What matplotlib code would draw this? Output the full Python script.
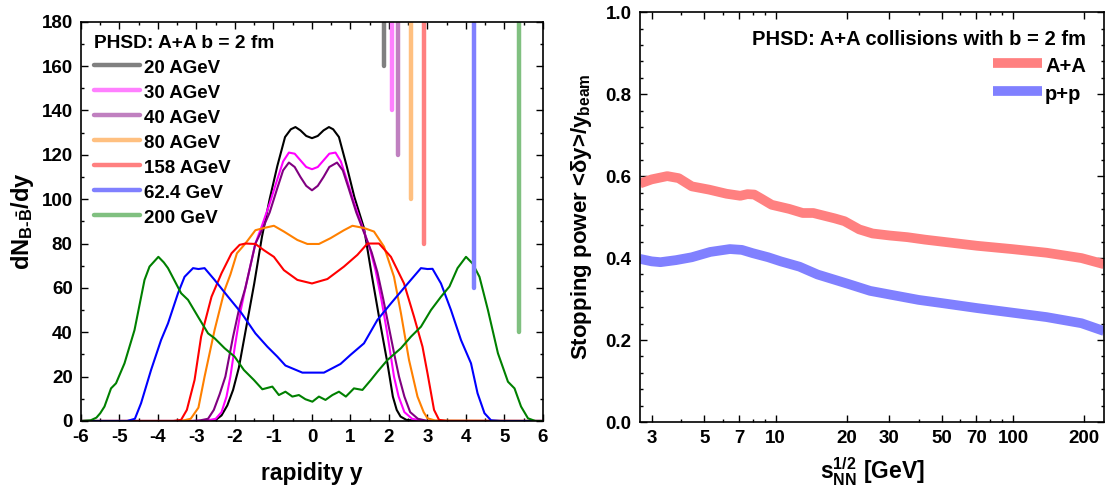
import numpy as np
import matplotlib
matplotlib.use("Agg")
import matplotlib.pyplot as plt
from matplotlib.ticker import MultipleLocator, FixedLocator, NullFormatter

plt.rcParams['font.family'] = ['Liberation Sans', 'DejaVu Sans']
plt.rcParams['font.weight'] = 'bold'
plt.rcParams['axes.labelweight'] = 'bold'
plt.rcParams['axes.unicode_minus'] = False
plt.rcParams['mathtext.fontset'] = 'custom'
plt.rcParams['mathtext.rm'] = 'Liberation Sans:bold'
plt.rcParams['mathtext.it'] = 'Liberation Sans:bold'
plt.rcParams['mathtext.bf'] = 'Liberation Sans:bold'

# ---- left panel: net-baryon rapidity distributions ----
labels = ["20 AGeV", "30 AGeV", "40 AGeV", "80 AGeV", "158 AGeV", "62.4 GeV", "200 GeV"]
curve_colors = ["black", "#ff00ff", "#800080", "#ff8000", "#ff0000", "#0000ff", "#008000"]
bar_colors = ["#808080", "#ff80ff", "#c080c0", "#ffc080", "#ff8080", "#8080ff", "#80c080"]
y_beam = [1.88, 2.09, 2.24, 2.58, 2.92, 4.21, 5.38]
bar_bottom = [160, 140, 120, 100, 80, 60, 40]

x_20 = [-6, -2.8, -2.5, -2.35, -2.2, -2.05, -1.9, -1.7, -1.5, -1.3, -1.1, -0.9, -0.7, -0.55, -0.43,
        -0.3, -0.15, 0.0, 0.15, 0.3, 0.44, 0.55, 0.7, 0.9, 1.1, 1.35, 1.55, 1.75, 1.95, 2.1, 2.2,
        2.3, 2.45, 2.8, 6]
y_20 = [0, 0, 0.5, 2.5, 7, 14, 24, 43, 62, 83, 100, 115, 128, 131.5, 132.5,
        131, 128.5, 127.5, 128.5, 131, 132.5, 131.5, 128, 115, 101, 87, 66, 46, 27, 11, 5,
        2, 0.5, 0, 0]

x_30 = [-6, -2.9, -2.7, -2.5, -2.35, -2.22, -2.12, -2.0, -1.85, -1.73, -1.6, -1.47, -1.3, -1.1, -0.9,
        -0.75, -0.6, -0.45, -0.3, -0.15, 0.0, 0.15, 0.3, 0.45, 0.61, 0.75, 0.9, 1.1, 1.3, 1.5,
        1.65, 1.8, 1.95, 2.05, 2.13, 2.25, 2.4, 2.6, 2.9, 6]
y_30 = [0, 0, 0.3, 1, 4, 11, 20, 34, 50, 60, 70, 80, 88, 98, 109,
        117, 121, 120.5, 117.5, 114.5, 113.5, 114.5, 117.5, 120.5, 121, 117, 109, 98, 88, 78,
        68, 55, 40, 29, 20, 11, 4, 1, 0, 0]

x_40 = [-6, -3.1, -2.9, -2.7, -2.55, -2.4, -2.25, -2.05, -1.9, -1.73, -1.6, -1.47, -1.3, -1.1, -0.9,
        -0.75, -0.6, -0.45, -0.3, -0.15, 0.0, 0.15, 0.3, 0.45, 0.65, 0.8, 0.95, 1.15, 1.35, 1.55,
        1.7, 1.85, 2.0, 2.15, 2.26, 2.4, 2.55, 2.75, 3.0, 6]
y_40 = [0, 0, 0.3, 1, 5, 12, 20, 38, 50, 60, 70, 80, 86, 94, 105,
        113, 116.5, 114.5, 110, 106, 104, 106, 110, 114.5, 116.5, 113, 105, 94, 85, 76,
        67, 55, 42, 29, 20, 11, 4, 1, 0, 0]

x_80 = [-6, -3.4, -3.15, -2.95, -2.79, -2.53, -2.27, -2.12, -1.95, -1.73, -1.47, -1.25, -0.99, -0.73,
        -0.38, -0.12, 0.18, 0.48, 0.83, 1.05, 1.35, 1.61, 1.87, 2.13, 2.31, 2.52, 2.74, 2.9,
        3.0, 3.2, 6]
y_80 = [0, 0, 1, 6, 20, 41, 59, 66, 75.6, 80, 86, 87, 88, 85.4,
        81.6, 79.8, 79.8, 82.4, 86, 88, 87, 85.4, 78.6, 65, 48.6, 27.5, 11, 4,
        1.2, 0.2, 0]

x_158 = [-6, -3.6, -3.4, -3.25, -3.05, -2.88, -2.61, -2.35, -2.09, -1.88, -1.73, -1.47, -1.25, -0.99,
         -0.73, -0.38, 0.0, 0.4, 0.83, 1.18, 1.44, 1.74, 2.05, 2.39, 2.65, 2.87, 3.0, 3.17,
         3.3, 3.5, 6]
y_158 = [0, 0, 0.5, 5, 18.5, 38, 56, 66.6, 75.6, 79.4, 80, 79.8, 77, 74,
         68, 63.6, 62, 64, 69.6, 74.9, 80, 80, 74, 62, 47, 33.5, 21.5, 5,
         0.5, 0, 0]

x_624 = [-6, -4.8, -4.6, -4.44, -4.18, -3.92, -3.74, -3.48, -3.31, -3.09, -2.95, -2.79, -2.53, -2.18,
         -1.83, -1.47, -1.16, -0.9, -0.69, -0.25, 0.31, 0.74, 1.0, 1.35, 1.7, 2.05, 2.39, 2.83,
         3.0, 3.13, 3.35, 3.61, 3.87, 4.13, 4.3, 4.48, 4.65, 4.9, 6]
y_624 = [0, 0, 1, 8, 23, 36.5, 44, 57.6, 65, 68.9, 68.5, 68.9, 63.6, 56,
         48.6, 39.5, 33.5, 29, 25, 21.8, 21.8, 25.7, 29.8, 35, 45.6, 53, 60, 68.9,
         68.5, 68.6, 62, 50, 36.5, 26, 12.5, 3.5, 0.3, 0, 0]

x_200 = [-6, -5.75, -5.6, -5.5, -5.39, -5.22, -5.09, -4.87, -4.61, -4.35, -4.22, -3.99, -3.85, -3.74,
         -3.4, -3.22, -2.96, -2.7, -2.53, -2.27, -2.01, -1.77, -1.51, -1.29, -1.03, -0.86, -0.69,
         -0.51, -0.34, -0.17, 0.01, 0.18, 0.35, 0.53, 0.7, 0.88, 1.09, 1.31, 1.53, 1.7, 1.96,
         2.31, 2.57, 2.83, 3.09, 3.35, 3.57, 3.78, 4.0, 4.17, 4.35, 4.57, 4.83, 5.09, 5.26,
         5.43, 5.61, 5.8, 6]
y_200 = [0, 0.3, 1.5, 3.5, 6.5, 14.7, 17, 26, 41, 63.6, 69.6, 74, 71.5, 68.9,
         57.6, 54.6, 47, 39.5, 37.3, 32.8, 29, 23, 18.5, 14.3, 15.5, 11.7, 13.2,
         11, 11.7, 9.8, 8.7, 11, 9.5, 11.7, 13.2, 11, 14.7, 14, 18.5, 22.2, 27.5,
         32.8, 38, 42.5, 50, 56, 60.6, 68.9, 74, 71, 65, 50, 30.5, 17.7, 14.7,
         6.5, 1.2, 0, 0]

curves_x = [x_20, x_30, x_40, x_80, x_158, x_624, x_200]
curves_y = [y_20, y_30, y_40, y_80, y_158, y_624, y_200]

# ---- right panel: stopping power ----
sqrt_s_aa = [2.68, 3.0, 3.49, 3.9, 4.43, 5.24, 6.2, 7.09, 7.6, 8.12, 8.7, 9.62, 11.4, 13.0, 14.4,
             17.7, 19.5, 22.5, 25.6, 30.3, 35.9, 42.6, 50.4, 70.6, 98.9, 138.6, 194.5, 242]
stop_aa = [0.582, 0.592, 0.60, 0.595, 0.575, 0.567, 0.557, 0.552, 0.556, 0.555, 0.545, 0.53, 0.52,
           0.51, 0.51, 0.497, 0.49, 0.47, 0.46, 0.455, 0.451, 0.445, 0.44, 0.43, 0.422, 0.413,
           0.40, 0.385]
sqrt_s_pp = [2.68, 3.0, 3.27, 3.8, 4.43, 5.3, 6.41, 7.2, 8.0, 9.3, 10.5, 12.6, 15.0, 20.2, 25.0,
             30.3, 40, 50.4, 70.6, 98.9, 138.6, 194.5, 242]
stop_pp = [0.398, 0.392, 0.39, 0.395, 0.402, 0.415, 0.422, 0.42, 0.412, 0.402, 0.392, 0.379, 0.36,
           0.337, 0.32, 0.311, 0.298, 0.29, 0.278, 0.267, 0.256, 0.241, 0.222]
log_ticks = [3, 5, 7, 10, 20, 30, 50, 70, 100, 200]
log_minor = [4, 6, 8, 9, 40, 60, 80, 90]

fig = plt.figure(figsize=(11.05, 4.91), dpi=100)
ax1 = fig.add_axes([0.0733, 0.1426, 0.4181, 0.8132])
ax2 = fig.add_axes([0.5792, 0.1405, 0.4199, 0.8347])

for xs, ys, c in zip(curves_x, curves_y, curve_colors):
    ax1.plot(xs, ys, color=c, lw=1.5)

handles = []
for yb, yb0, c, lab in zip(y_beam, bar_bottom, bar_colors, labels):
    h, = ax1.plot([yb, yb], [yb0, 180], color=c, lw=3.2, solid_capstyle='round', label=lab)
    handles.append(h)

ax1.set_xlim(-6, 6)
ax1.set_ylim(0, 180)
ax1.xaxis.set_major_locator(MultipleLocator(1))
ax1.xaxis.set_minor_locator(MultipleLocator(0.5))
ax1.yaxis.set_major_locator(MultipleLocator(20))
ax1.yaxis.set_minor_locator(MultipleLocator(10))
ax1.set_xlabel("rapidity y", fontsize=16.5, labelpad=11)
ax1.set_ylabel(r"dN$_{\mathrm{B\text{-}\bar{B}}}$/dy", fontsize=17, labelpad=4)
ax1.legend(handles=handles, loc='upper left', frameon=False, fontsize=13.5,
           title="PHSD: A+A b = 2 fm", title_fontproperties={'weight': 'bold', 'size': 13.8},
           alignment='left', handlelength=2.45, handletextpad=0.2, labelspacing=0.3,
           handleheight=1.1, borderaxespad=0.1, borderpad=0.6)

ax2.plot(sqrt_s_aa, stop_aa, color="#ff8080", lw=7, solid_capstyle='butt', label="A+A")
ax2.plot(sqrt_s_pp, stop_pp, color="#8080ff", lw=7, solid_capstyle='butt', label="p+p")
ax2.set_xscale('log')
ax2.set_xlim(2.68, 242)
ax2.set_ylim(0, 1.0)
ax2.xaxis.set_major_locator(FixedLocator(log_ticks))
ax2.xaxis.set_minor_locator(FixedLocator(log_minor))
ax2.xaxis.set_minor_formatter(NullFormatter())
ax2.set_xticklabels([str(t) for t in log_ticks])
ax2.yaxis.set_major_locator(MultipleLocator(0.2))
ax2.yaxis.set_minor_locator(MultipleLocator(0.04))
ax2.yaxis.set_major_formatter(plt.FormatStrFormatter('%.1f'))
ax2.set_xlabel(r"$\mathrm{s_{NN}^{1/2}}$ [GeV]", fontsize=16.5, labelpad=6)
ax2.set_ylabel(r"Stopping power <δy>/y$_{\mathrm{beam}}$", fontsize=16, labelpad=8)
ax2.legend(loc='upper right', frameon=False, fontsize=14.5,
           title="PHSD: A+A collisions with b = 2 fm",
           title_fontproperties={'weight': 'bold', 'size': 14.5},
           alignment='right', handlelength=2.45, handletextpad=0.15, labelspacing=0.2,
           handleheight=1.45, borderaxespad=0.3, borderpad=0.6)

for ax in (ax1, ax2):
    ax.tick_params(which='both', direction='in', top=True, right=True, labelsize=13.5, width=1)
    ax.tick_params(which='major', length=5, pad=6)
    ax.tick_params(which='minor', length=2.5)
    for s in ax.spines.values():
        s.set_linewidth(1.2)

fig.savefig("out.png", dpi=100)
